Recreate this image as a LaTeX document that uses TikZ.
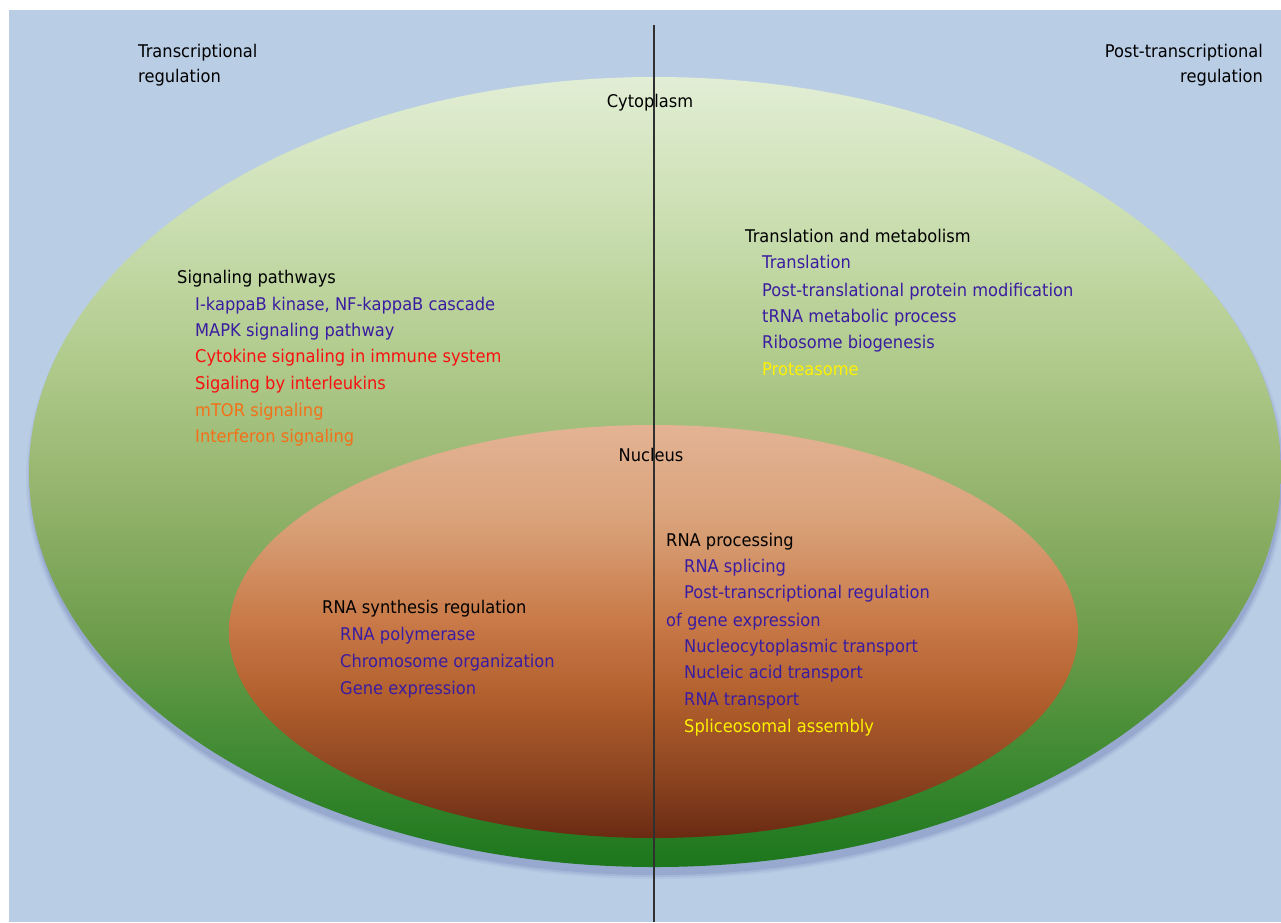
\documentclass[tikz,border=0pt]{standalone}
\usepackage{fontspec}
\setmainfont{DejaVu Sans}[FakeStretch=0.93]
\definecolor{bgblue}{HTML}{B9CDE5}
\definecolor{itemblue}{HTML}{3A1CA0}
\definecolor{itemred}{HTML}{F81010}
\definecolor{itemorange}{HTML}{F47018}
\definecolor{itemyellow}{HTML}{FFF200}
\definecolor{divider}{HTML}{303030}
\pgfdeclareverticalshading{cytoshade}{100bp}{%
  color(0bp)=(rgb,255:red,28;green,118;blue,28);
  color(25bp)=(rgb,255:red,28;green,118;blue,28);
  color(31.75bp)=(rgb,255:red,62;green,138;blue,50);
  color(39.35bp)=(rgb,255:red,108;green,156;blue,74);
  color(49.5bp)=(rgb,255:red,152;green,182;blue,112);
  color(57.7bp)=(rgb,255:red,178;green,204;blue,142);
  color(67.2bp)=(rgb,255:red,206;green,225;blue,182);
  color(75bp)=(rgb,255:red,226;green,238;blue,213);
  color(100bp)=(rgb,255:red,226;green,238;blue,213)}
\pgfdeclareverticalshading{nucshade}{100bp}{%
  color(0bp)=(rgb,255:red,106;green,42;blue,18);
  color(25bp)=(rgb,255:red,106;green,42;blue,18);
  color(32bp)=(rgb,255:red,138;green,67;blue,32);
  color(41.7bp)=(rgb,255:red,176;green,94;blue,44);
  color(51.4bp)=(rgb,255:red,201;green,122;blue,72);
  color(63.5bp)=(rgb,255:red,217;green,162;blue,122);
  color(75bp)=(rgb,255:red,227;green,179;blue,148);
  color(100bp)=(rgb,255:red,227;green,179;blue,148)}
\tikzset{
  lbl/.style={anchor=base west, inner sep=0pt, font=\fontsize{17.5}{20}\selectfont},
  head/.style={lbl, text=black},
  headr/.style={head, anchor=base east},
  blu/.style={lbl, text=itemblue},
  rd/.style={lbl, text=itemred},
  org/.style={lbl, text=itemorange},
  ylw/.style={lbl, text=itemyellow},
  region/.style={draw=none},
}
\begin{document}
\begin{tikzpicture}[x=1pt,y=-1pt]
\useasboundingbox (0,0) rectangle (1281,922);
\fill[white] (0,0) rectangle (1281,922);
\fill[bgblue] (9,10) rectangle (1281,922);
% soft shadow of the cytoplasm
\foreach \d/\o in {6/0.04,4/0.06,2/0.08}{
  \fill[black!60!blue, opacity=\o] (656,479) ellipse [x radius=624+\d, y radius=394+\d];
}
% cytoplasm
\path[region, shading=cytoshade] (655,472) ellipse [x radius=626, y radius=395];
\coordinate (cyto) at (655,472);
% nucleus
\path[region, shading=nucshade] (653.5,631.5) ellipse [x radius=424.5, y radius=206.5];
\coordinate (nuc) at (653.5,631.5);
% divider
\coordinate (divtop) at (654,25);
\coordinate (divbot) at (654,922);
\draw[divider, line width=1.1pt] (divtop) -- (divbot);
% corner titles
\node[head] (tr1) at (138,57) {Transcriptional};
\node[head] (tr2) at (138,82) {regulation};
\node[headr] (pt1) at (1263,57) {Post-transcriptional};
\node[headr] (pt2) at (1263,82) {regulation};
\node[head, anchor=base] (cytolbl) at (650,107) {Cytoplasm};
\node[head, anchor=base] (nuclbl) at (651,461) {Nucleus};
% signaling pathways
\node[head] (sig) at (177,283) {Signaling pathways};
\node[blu] (s1) at (195,310) {I-kappaB kinase, NF-kappaB cascade};
\node[blu] (s2) at (195,336) {MAPK signaling pathway};
\node[rd]  (s3) at (195,362) {Cytokine signaling in immune system};
\node[rd]  (s4) at (195,389) {Sigaling by interleukins};
\node[org] (s5) at (195,416) {mTOR signaling};
\node[org] (s6) at (195,442) {Interferon signaling};
% translation and metabolism
\node[head] (tm) at (745,242) {Translation and metabolism};
\node[blu] (t1) at (762,268) {Translation};
\node[blu] (t2) at (762,296) {Post-translational protein modification};
\node[blu] (t3) at (762,322) {tRNA metabolic process};
\node[blu] (t4) at (762,348) {Ribosome biogenesis};
\node[ylw] (t5) at (762,375) {Proteasome};
% RNA synthesis regulation
\node[head] (rs) at (322,613) {RNA synthesis regulation};
\node[blu] (r1) at (340,640) {RNA polymerase};
\node[blu] (r2) at (340,667) {Chromosome organization};
\node[blu] (r3) at (340,694) {Gene expression};
% RNA processing
\node[head] (rp) at (666,546) {RNA processing};
\node[blu] (p1) at (684,572) {RNA splicing};
\node[blu] (p2) at (684,598) {Post-transcriptional regulation};
\node[blu] (p2b) at (666,626) {of gene expression};
\node[blu] (p3) at (684,652) {Nucleocytoplasmic transport};
\node[blu] (p4) at (684,678) {Nucleic acid transport};
\node[blu] (p5) at (684,705) {RNA transport};
\node[ylw] (p6) at (684,732) {Spliceosomal assembly};
\end{tikzpicture}
\end{document}
